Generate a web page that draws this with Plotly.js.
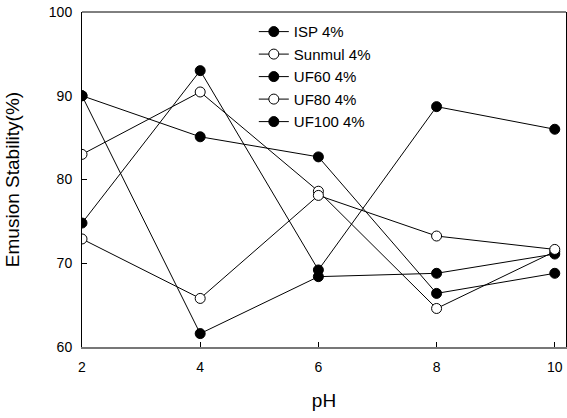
<!DOCTYPE html>
<html>
<head>
<meta charset="utf-8">
<script src="https://cdn.plot.ly/plotly-3.0.1.min.js"></script>
<style>html,body{margin:0;padding:0;background:#fff}#chart{width:567px;height:418px}</style>
</head>
<body>
<div id="chart"></div>
<script>
var pH = [2, 4, 6, 8, 10];
var seriesNames = ["ISP 4%", "Sunmul 4%", "UF60 4%", "UF80 4%", "UF100 4%"];
var ispValues = [90.0, 85.1, 82.7, 66.4, 68.8];
var sunmulValues = [83.0, 90.45, 78.6, 64.6, 71.4];
var uf60Values = [90.0, 61.6, 68.4, 68.8, 71.1];
var uf80Values = [72.9, 65.8, 78.1, 73.25, 71.65];
var uf100Values = [74.8, 93.0, 69.2, 88.7, 86.0];
var xTicks = [2, 4, 6, 8, 10];
var yTicks = [60, 70, 80, 90, 100];

var allValues = [ispValues, sunmulValues, uf60Values, uf80Values, uf100Values];
var filled = [true, false, true, false, true];

var traces = allValues.map(function (vals, i) {
  return {
    x: pH,
    y: vals,
    name: seriesNames[i],
    type: 'scatter',
    mode: 'lines+markers',
    line: {color: '#000', width: 1},
    marker: {
      size: 10,
      color: filled[i] ? '#000' : '#fff',
      line: {color: '#000', width: 1}
    }
  };
});

var fam = 'Liberation Sans, Arial, sans-serif';
var axisFont = {family: fam, size: 14, color: '#000'};

var layout = {
  width: 567,
  height: 418,
  margin: {l: 82, r: 1, t: 12, b: 71},
  paper_bgcolor: '#fff',
  plot_bgcolor: '#fff',
  font: {family: fam, color: '#000'},
  showlegend: true,
  legend: {
    x: 0.355, y: 0.99, xanchor: 'left', yanchor: 'top',
    bgcolor: 'rgba(0,0,0,0)',
    font: {family: fam, size: 15, color: '#000'},
    tracegroupgap: 0
  },
  shapes: [
    {type: 'line', xref: 'paper', yref: 'paper', x0: 0, x1: 1, y0: 1, y1: 1,
     line: {color: '#000', width: 1}}
  ],
  xaxis: {
    range: [2, 10.19],
    tickvals: xTicks,
    ticktext: xTicks.map(String),
    ticks: 'inside',
    ticklen: 5,
    tickcolor: '#000',
    ticklabelstandoff: 6,
    showgrid: false,
    zeroline: false,
    showline: true,
    linecolor: '#777',
    linewidth: 2,
    mirror: false,
    tickfont: axisFont,
    title: {text: 'pH', font: {family: fam, size: 19, color: '#000'}, standoff: 20}
  },
  yaxis: {
    range: [60, 100],
    tickvals: yTicks,
    ticktext: yTicks.map(String),
    ticks: 'inside',
    ticklen: 5,
    tickcolor: '#000',
    ticklabelstandoff: 6,
    showgrid: false,
    zeroline: false,
    showline: true,
    linecolor: '#000',
    linewidth: 1,
    mirror: true,
    tickfont: axisFont,
    title: {text: 'Emusion Stability(%)', font: {family: fam, size: 19, color: '#000'}, standoff: 24}
  }
};

Plotly.newPlot('chart', traces, layout, {displayModeBar: false, staticPlot: true});
</script>
</body>
</html>
